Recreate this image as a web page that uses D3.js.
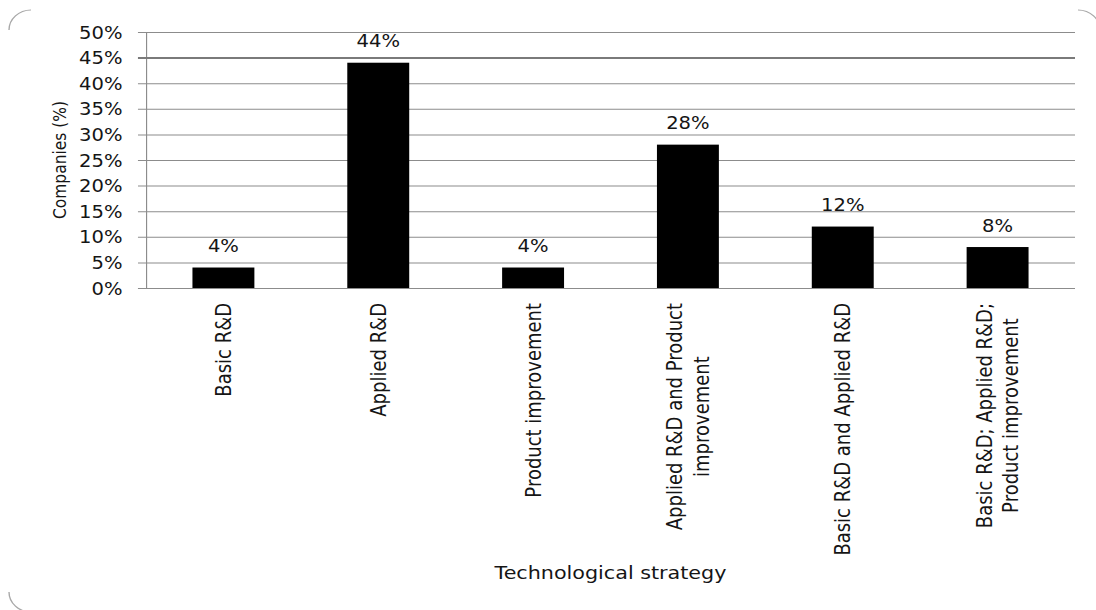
<!DOCTYPE html>
<html>
<head>
<meta charset="utf-8">
<script src="https://cdn.jsdelivr.net/npm/d3@7"></script>
<style>
  html, body { margin: 0; padding: 0; background: #fff; }
  svg { display: block; }
</style>
</head>
<body>
<svg id="chart"></svg>
<script>
// Share of companies by technological strategy
const categories = [
  "Basic R&D",
  "Applied R&D",
  "Product improvement",
  "Applied R&D and Product\nimprovement",
  "Basic R&D and Applied R&D",
  "Basic R&D; Applied R&D;\nProduct improvement"
];
const values = [4, 44, 4, 28, 12, 8];
const yTickValues = [0, 5, 10, 15, 20, 25, 30, 35, 40, 45, 50];
const xTitle = "Technological strategy";
const yTitle = "Companies (%)";

// The drawing is laid out in a horizontally condensed frame and widened by the viewBox
const SX = 1.15;
const W = 1096 / SX, H = 610;
const FONT = "'DejaVu Sans', sans-serif";
const INK = "#151515";
const GRID = "#8c8c8c";

const svg = d3.select("#chart")
  .attr("width", 1096)
  .attr("height", H)
  .attr("viewBox", `0 0 ${W} ${H}`)
  .attr("preserveAspectRatio", "none");

const plotLeft = 146 / SX, plotRight = 1075 / SX, plotTop = 32, plotBottom = 288;

const y = d3.scaleLinear().domain([0, 50]).range([plotBottom, plotTop]);
const x = d3.scaleBand().domain(categories).range([plotLeft, plotRight])
  .paddingInner(0.6).paddingOuter(0.3);

// chart-area corners
const corner = svg.append("g").attr("fill", "none").attr("stroke", "#a8a8a8").attr("stroke-width", 1.2);
const cx0 = 9 / SX, cx1 = 1100 / SX, cy0 = 10, cy1 = 612, rx = 22 / SX, ry = 20;
corner.append("path").attr("d", `M${cx0},${cy0 + ry} A${rx},${ry} 0 0 1 ${cx0 + rx},${cy0}`);
corner.append("path").attr("d", `M${cx1 - rx},${cy0} A${rx},${ry} 0 0 1 ${cx1},${cy0 + ry}`);
corner.append("path").attr("d", `M${cx0},${cy1 - ry} A${rx},${ry} 0 0 0 ${cx0 + rx},${cy1}`);

// y axis with gridlines
const yAxis = svg.append("g")
  .attr("transform", `translate(${plotLeft},0)`)
  .call(d3.axisLeft(y)
    .tickValues(yTickValues)
    .tickFormat(d => d + "%")
    .tickSizeInner(-(plotRight - plotLeft))
    .tickSizeOuter(0)
    .tickPadding(20.5));
yAxis.attr("font-family", FONT).attr("font-size", 17);
yAxis.select(".domain").attr("stroke", GRID).attr("stroke-width", 1);
yAxis.selectAll(".tick line")
  .attr("x1", -7)
  .attr("stroke", d => d === 45 ? "#7a7a7a" : GRID)
  .attr("stroke-width", d => d === 45 ? 2 : 1);
yAxis.selectAll(".tick text").attr("fill", INK).attr("dy", "0.36em");

// bars
svg.append("g").selectAll("rect")
  .data(values)
  .join("rect")
  .attr("x", (d, i) => x(categories[i]))
  .attr("width", x.bandwidth())
  .attr("y", d => y(d))
  .attr("height", d => y(0) - y(d))
  .attr("fill", "#000");

// value labels
svg.append("g").selectAll("text")
  .data(values)
  .join("text")
  .attr("x", (d, i) => x(categories[i]) + x.bandwidth() / 2)
  .attr("y", d => y(d) - 15.5)
  .attr("text-anchor", "middle")
  .attr("font-family", FONT)
  .attr("font-size", 17)
  .attr("fill", INK)
  .text(d => d + "%");

// rotated category labels
const labelSize = 18;
const cap = 0.729 * labelSize;
const lineGap = 23;
const catG = svg.append("g").attr("font-family", FONT).attr("font-size", labelSize).attr("fill", INK);
categories.forEach(c => {
  const lines = c.split("\n");
  const g = catG.append("g")
    .attr("transform", `translate(${x(c) + x.bandwidth() / 2},303) rotate(-90)`);
  const b0 = (cap - (lines.length - 1) * lineGap) / 2;
  const texts = lines.map((t, i) => g.append("text")
    .attr("y", b0 + i * lineGap)
    .attr("text-anchor", "middle")
    .text(t));
  const L = d3.max(texts, t => t.node().getComputedTextLength());
  texts.forEach(t => t.attr("x", -L / 2));
});

// axis titles
svg.append("text")
  .attr("x", (plotLeft + plotRight) / 2)
  .attr("y", 579.5)
  .attr("text-anchor", "middle")
  .attr("font-family", FONT)
  .attr("font-size", 18)
  .attr("fill", INK)
  .text(xTitle);

svg.append("text")
  .attr("transform", `translate(${66 / SX},${(plotTop + plotBottom) / 2}) rotate(-90)`)
  .attr("text-anchor", "middle")
  .attr("font-family", FONT)
  .attr("font-size", 15.5)
  .attr("fill", INK)
  .text(yTitle);
</script>
</body>
</html>
